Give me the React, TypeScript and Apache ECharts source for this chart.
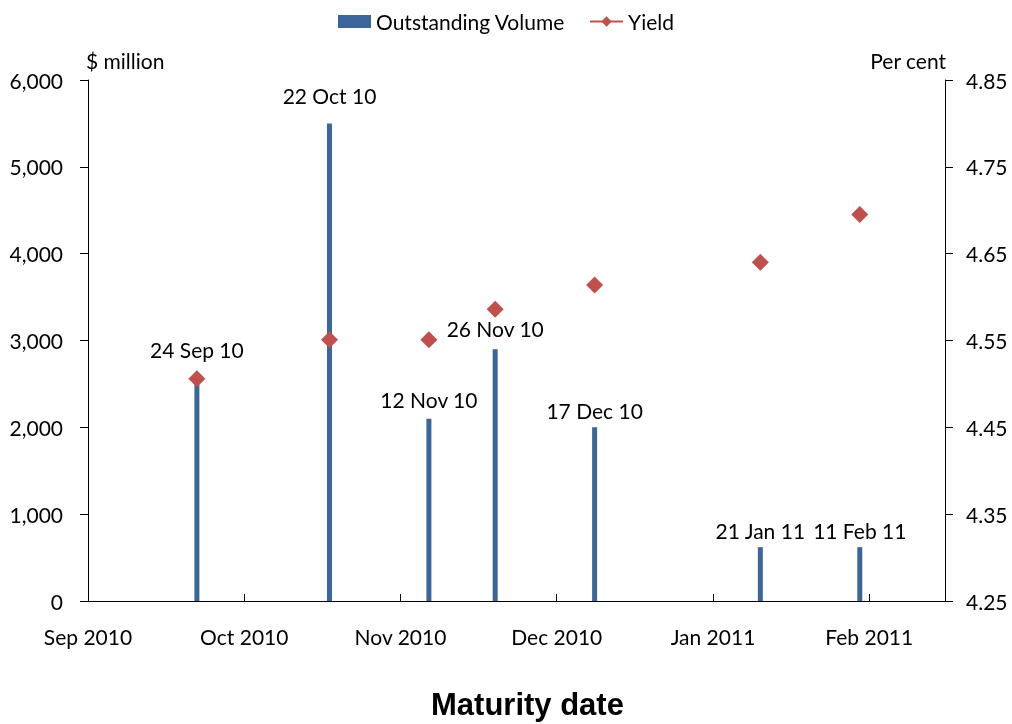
import React, { useEffect, useRef } from "react";
import * as echarts from "echarts";

const maturityDates = ["2010-09-24", "2010-10-22", "2010-11-12", "2010-11-26", "2010-12-17", "2011-01-21", "2011-02-11"];
const dateLabels = ["24 Sep 10", "22 Oct 10", "12 Nov 10", "26 Nov 10", "17 Dec 10", "21 Jan 11", "11 Feb 11"];
const outstandingVolume = [2550, 5500, 2100, 2900, 2000, 620, 620];
const yieldValues = [4.506, 4.551, 4.551, 4.586, 4.614, 4.64, 4.695];
const xTickMonths = ["Sep", "Oct", "Nov", "Dec", "Jan", "Feb", "Mar", "Apr", "May", "Jun", "Jul", "Aug"];

const AXIS_START = Date.UTC(2010, 8, 1);
const DAY = 86400000;
const toDays = (s: string) => {
  const [y, m, d] = s.split("-").map(Number);
  return Math.round((Date.UTC(y, m - 1, d) - AXIS_START) / DAY);
};
const dayLabel = (v: number) => {
  const dt = new Date(AXIS_START + v * DAY);
  return xTickMonths[(dt.getUTCMonth() + 4) % 12] + " " + dt.getUTCFullYear();
};

const FONT = "Lato";
const FS = 21;
const BLUE = "#3A6699";
const RED = "#C0504D";
const labelDistance = [20, 17, 9, 10, 6, 6, 6];

export default function App() {
  const ref = useRef<HTMLDivElement>(null);
  useEffect(() => {
    if (!ref.current) return;
    const chart = echarts.init(ref.current, null, { renderer: "svg" });
    const xs = maturityDates.map(toDays);
    chart.setOption({
      animation: false,
      textStyle: { fontFamily: FONT },
      legend: {
        top: 6,
        left: "center",
        itemWidth: 33,
        itemHeight: 13,
        itemGap: 24,
        textStyle: { fontFamily: FONT, fontSize: FS, color: "#000" },
        data: [
          { name: "Outstanding Volume", icon: "rect" },
          { name: "Yield" },
        ],
      },
      grid: { left: 88, right: 67, top: 80, bottom: 123, containLabel: false },
      xAxis: {
        type: "value",
        min: 0,
        max: 181,
        interval: 33,
        axisLine: { lineStyle: { color: "#000", width: 1 } },
        axisTick: { inside: true, length: 7, lineStyle: { color: "#000" } },
        axisLabel: {
          margin: 25,
          fontSize: FS,
          fontFamily: FONT,
          color: "#000",
          showMaxLabel: false,
          formatter: (v: number) => dayLabel(v),
        },
        splitLine: { show: false },
      },
      yAxis: [
        {
          type: "value",
          min: 0,
          max: 6000,
          interval: 1000,
          axisLine: { show: true, lineStyle: { color: "#000", width: 1 } },
          axisTick: { show: true, length: 8, lineStyle: { color: "#000" } },
          axisLabel: {
            margin: 25,
            fontSize: FS,
            fontFamily: FONT,
            color: "#000",
            formatter: (v: number) => v.toLocaleString("en-US"),
          },
          splitLine: { show: false },
        },
        {
          type: "value",
          min: 4.25,
          max: 4.85,
          interval: 0.1,
          position: "right",
          axisLine: { show: true, lineStyle: { color: "#000", width: 1 } },
          axisTick: { show: true, length: 8, lineStyle: { color: "#000" } },
          axisLabel: {
            margin: 21,
            fontSize: FS,
            fontFamily: FONT,
            color: "#000",
            formatter: (v: number) => v.toFixed(2),
          },
          splitLine: { show: false },
        },
      ],
      series: [
        {
          name: "Outstanding Volume",
          type: "bar",
          barWidth: 5,
          itemStyle: { color: BLUE },
          data: xs.map((x, i) => ({
            value: [x, outstandingVolume[i]],
            label: {
              show: true,
              position: "top",
              distance: labelDistance[i],
              formatter: dateLabels[i],
              fontSize: FS,
              fontFamily: FONT,
              color: "#000",
            },
          })),
          z: 2,
        },
        {
          name: "YieldPoints",
          type: "scatter",
          yAxisIndex: 1,
          symbol: "diamond",
          symbolSize: 17,
          itemStyle: { color: RED, opacity: 1 },
          data: xs.map((x, i) => [x, yieldValues[i]]),
          z: 3,
        },
        {
          name: "Yield",
          type: "line",
          yAxisIndex: 1,
          symbol: "diamond",
          symbolSize: 14,
          itemStyle: { color: RED },
          lineStyle: { color: RED, width: 4 },
          data: [],
        },
      ],
      graphic: [
        {
          type: "text",
          left: 86,
          top: 50,
          style: { text: "$ million", font: `${FS}px ${FONT}`, fill: "#000" },
        },
        {
          type: "text",
          right: 66,
          top: 50,
          style: { text: "Per cent", font: `${FS}px ${FONT}`, fill: "#000", textAlign: "right" },
        },
        {
          type: "text",
          left: 431,
          top: 689,
          style: { text: "Maturity date", font: `bold 31px "Liberation Sans", Arial`, fill: "#000" },
        },
      ],
    });
    return () => chart.dispose();
  }, []);
  return <div ref={ref} style={{ position: "fixed", left: 0, top: 0, width: 1012, height: 724 }} />;
}
